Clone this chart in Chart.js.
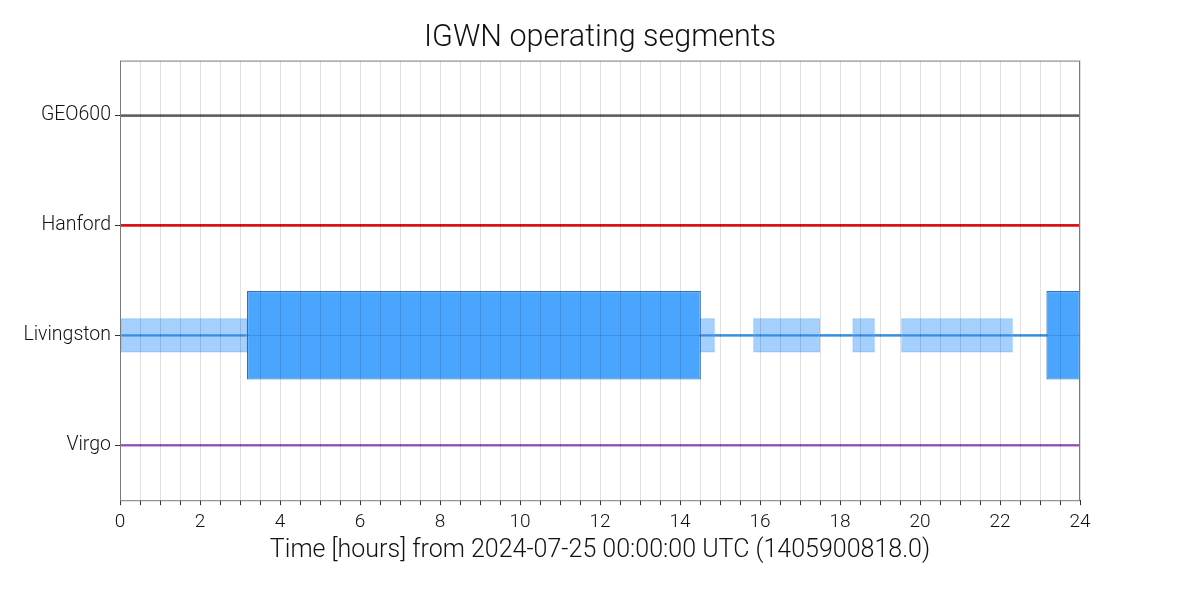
<!DOCTYPE html>
<html>
<head>
<meta charset="utf-8">
<script src="https://cdn.jsdelivr.net/npm/chart.js@4.4.1/dist/chart.umd.min.js"></script>
<style>
  html, body { margin: 0; padding: 0; background: #fff; }
  #wrap { width: 1200px; height: 600px; }
</style>
</head>
<body>
<div id="wrap"><canvas id="segChart" width="1200" height="600"></canvas></div>
<script>
// detectors, top to bottom
const detectors = ['GEO600', 'Hanford', 'Livingston', 'Virgo'];
const fullSpan = [0, 24];
const lineColors = ['#6b6b6b', '#e8141a', '#4ba0ec', '#a45ec6'];

// Livingston segments, hours from 2024-07-25 00:00:00 UTC
const livingstonKnown = [[0, 3.175], [14.5, 14.87], [15.83, 17.5], [18.31, 18.87], [19.53, 22.32]];
const livingstonActive = [[3.175, 14.52], [23.16, 24]];

const xTitle = 'Time [hours] from 2024-07-25 00:00:00 UTC (1405900818.0)';
const fontFamily = 'Roboto, "DejaVu Sans", sans-serif';

// horizontal lines for each detector
const lineSets = detectors.map((d, i) => ({
    label: d + ' line',
    data: [{ x: fullSpan, y: d }],
    backgroundColor: lineColors[i],
    borderWidth: 0,
    barThickness: 2,
    order: 3
}));

const datasets = [
    {
        label: 'Livingston known',
        data: livingstonKnown.map(s => ({ x: s, y: 'Livingston' })),
        backgroundColor: 'rgba(75,160,250,0.5)',
        borderColor: 'rgba(110,180,250,0.75)',
        borderWidth: 1.5,
        borderSkipped: false,
        barPercentage: 0.31,
        categoryPercentage: 1,
        order: 2
    },
    ...lineSets,
    {
        label: 'Livingston active',
        data: livingstonActive.map(s => ({ x: s, y: 'Livingston' })),
        backgroundColor: '#4aa5ff',
        borderColor: '#2f6fb5',
        borderWidth: 1.2,
        borderSkipped: false,
        barPercentage: 0.805,
        categoryPercentage: 1,
        order: 1
    }
];

// frame round the plot area
const framePlugin = {
    id: 'frame',
    afterDraw(chart) {
        const { ctx, chartArea: a } = chart;
        ctx.save();
        ctx.strokeStyle = '#7a7a7a';
        ctx.lineWidth = 1;
        ctx.strokeRect(a.left + 0.5, a.top + 0.5, a.right - a.left - 1, a.bottom - a.top);
        ctx.restore();
    }
};

const ctx = document.getElementById('segChart').getContext('2d');
new Chart(ctx, {
    type: 'bar',
    data: { labels: detectors, datasets: datasets },
    options: {
        responsive: false,
        animation: false,
        indexAxis: 'y',
        layout: { padding: { top: 0, right: 0, bottom: 32, left: 0 } },
        datasets: { bar: { grouped: false } },
        plugins: {
            legend: { display: false },
            tooltip: { enabled: false },
            title: {
                display: true,
                text: 'IGWN operating segments',
                color: '#111',
                font: { family: fontFamily, size: 30.5, weight: 300 },
                padding: { top: 20, bottom: 4 }
            }
        },
        scales: {
            x: {
                type: 'linear',
                min: 0,
                max: 24,
                ticks: {
                    stepSize: 0.5,
                    autoSkip: false,
                    maxRotation: 0,
                    padding: 6,
                    color: '#111',
                    font: { family: fontFamily, size: 19, weight: 300 },
                    callback: v => (v % 2 === 0 ? String(v) : '')
                },
                grid: {
                    z: 1,
                    color: 'rgba(0,0,0,0.12)',
                    tickColor: '#333',
                    tickLength: 5
                },
                border: { display: false },
                title: {
                    display: true,
                    text: xTitle,
                    color: '#111',
                    font: { family: fontFamily, size: 25, weight: 300 },
                    padding: { top: -4, bottom: 2 }
                }
            },
            y: {
                type: 'category',
                offset: true,
                afterFit: s => { s.width = 120; },
                ticks: {
                    color: '#111',
                    padding: 4,
                    font: { family: fontFamily, size: 19.5, weight: 300 }
                },
                grid: {
                    offset: false,
                    z: 1,
                    color: 'rgba(0,0,0,0.12)',
                    tickColor: '#333',
                    tickLength: 5
                },
                border: { display: false }
            },
            // empty right-hand axis that only reserves the right margin
            yRight: {
                type: 'linear',
                position: 'right',
                min: 0,
                max: 1,
                afterFit: s => { s.width = 120; },
                ticks: { display: false },
                grid: { display: false },
                border: { display: false }
            }
        }
    },
    plugins: [framePlugin]
});
</script>
</body>
</html>
